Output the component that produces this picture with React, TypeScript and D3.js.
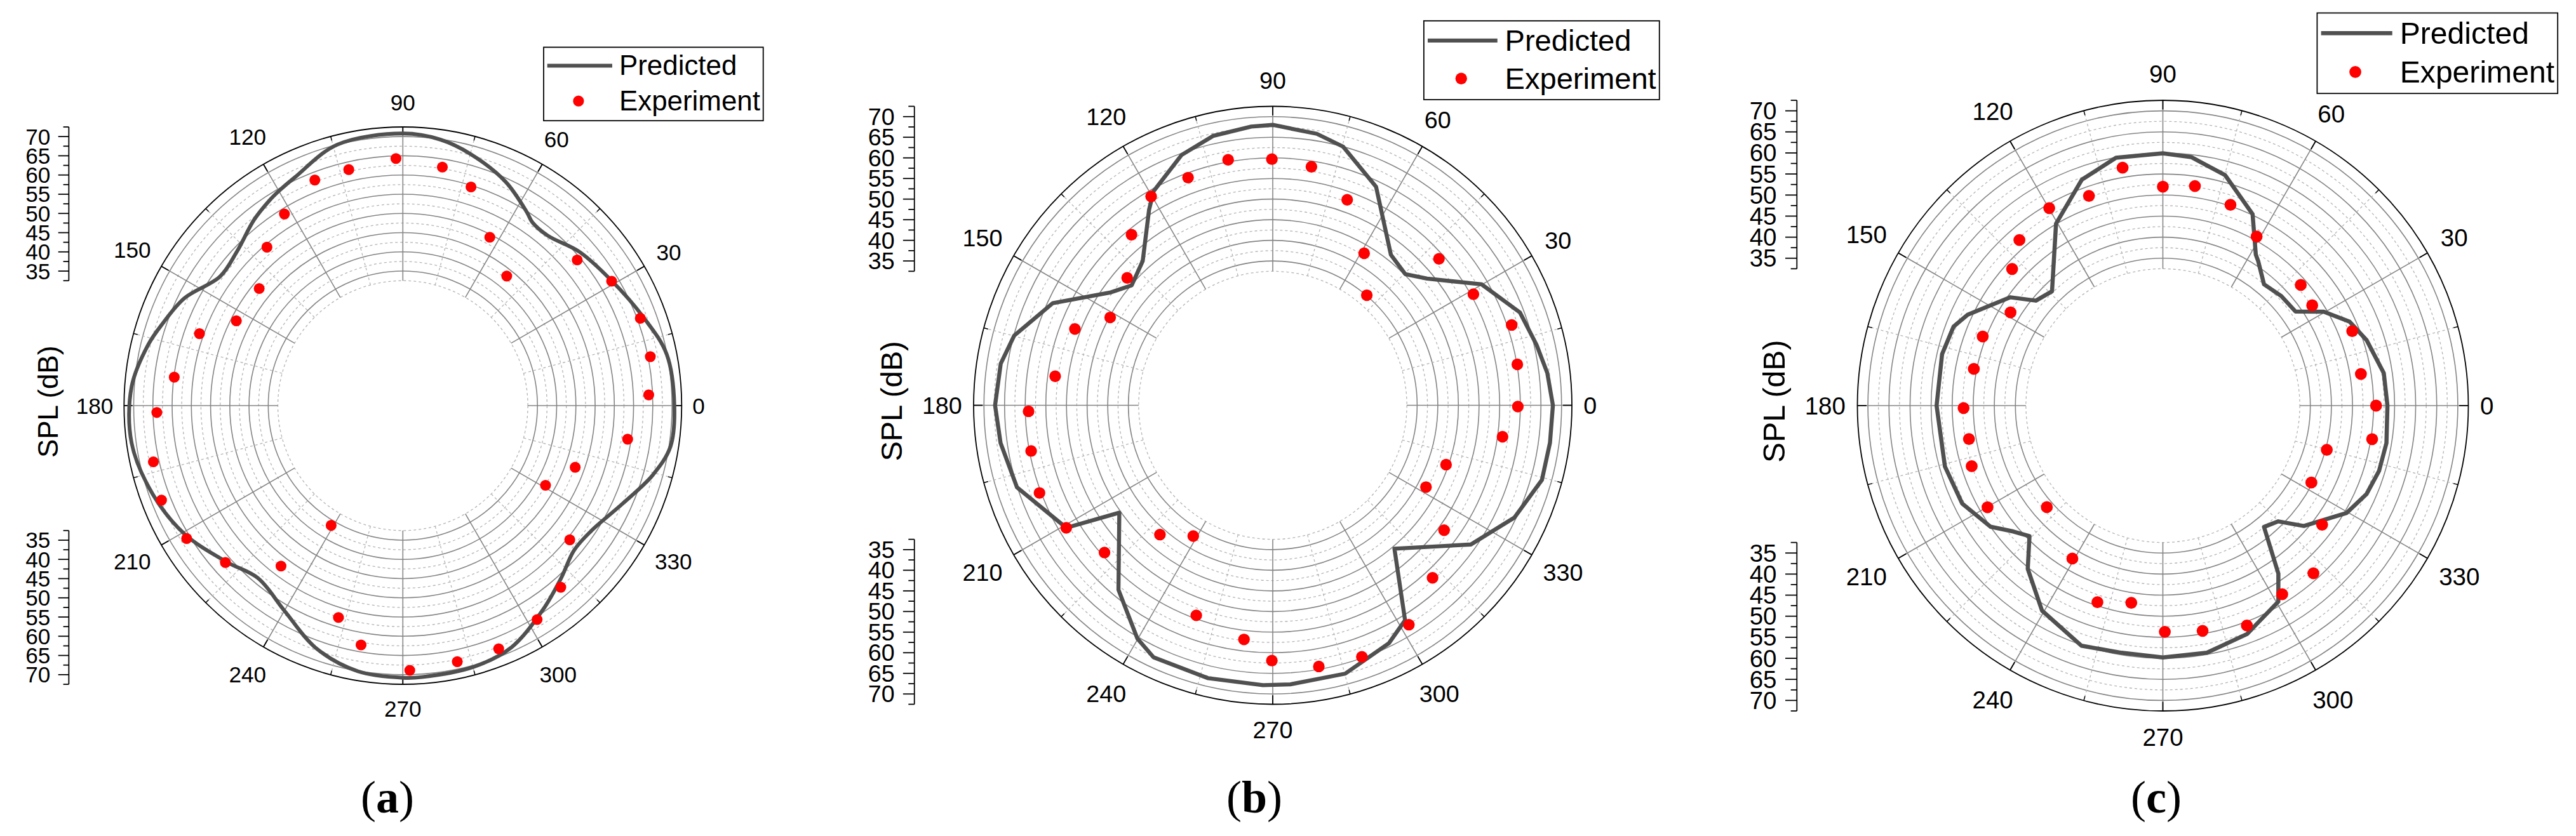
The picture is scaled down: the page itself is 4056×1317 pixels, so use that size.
import React from 'react';
import * as d3 from 'd3';

// ---------- shared ticks / labels ----------
const angleTicks = [0, 30, 60, 90, 120, 150, 180, 210, 240, 270, 300, 330];
const angleMinorTicks = [15, 45, 75, 105, 135, 165, 195, 225, 255, 285, 315, 345];
const radialMajor = [35, 40, 45, 50, 55, 60, 65, 70];
const radialMinor = [32.5, 37.5, 42.5, 47.5, 52.5, 57.5, 62.5, 67.5, 72.5];
const radialDomain = [0, 72.5];
const radialInner = 32.5;
const legendLabels = ['Predicted', 'Experiment'];
const axisTitle = 'SPL (dB)';
const panelLetters = ['a', 'b', 'c'];

// ---------- panel (a) ----------
const predA_deg = [0, 11, 20.3, 31.2, 41.1, 49.6, 54.8, 57.4, 65.4, 75, 82, 90, 104.1, 115.3, 119.9, 123.2, 128.7, 137.1, 144.7, 153.8, 161.1, 166.6, 176, 187.8, 199.5, 210.4, 221.5, 230, 240, 250.3, 260.4, 270, 274, 285.2, 294, 304.2, 312.5, 319.8, 326.2, 336, 344.4, 351.3];
const predA_spl = [70.6, 69.9, 66.6, 63.2, 60.9, 58.1, 58.4, 59.8, 64.1, 67.8, 69.9, 70.8, 70.0, 65.7, 64.5, 63.6, 61.9, 58.9, 58.2, 63.3, 66.0, 68.1, 70.7, 71.2, 69.0, 65.9, 61.3, 58.6, 61.6, 67.0, 70.1, 70.8, 70.8, 70.4, 69.0, 64.5, 60.9, 58.3, 58.8, 62.6, 67.4, 70.4];
const expA_deg = [2.5, 11.2, 20.2, 30.8, 39.9, 51.3, 62.7, 72.7, 80.6, 91.6, 102.9, 111.3, 121.7, 130.6, 140.8, 153, 160.5, 172.9, 181.6, 192.7, 201.4, 211.6, 221.5, 232.8, 239.1, 253.1, 260.1, 271.5, 282, 291.5, 302.1, 311, 321.2, 330.8, 340.3, 351.5];
const expA_spl = [64.0, 65.6, 65.8, 63.2, 59.1, 43.2, 49.3, 59.6, 62.9, 64.3, 63.0, 63.0, 58.6, 54.3, 48.2, 48.6, 56.1, 59.9, 64.0, 66.5, 67.4, 66.0, 61.6, 52.4, 36.3, 57.6, 63.2, 68.9, 68.1, 68.0, 65.7, 62.6, 55.7, 42.5, 47.6, 59.1];

// ---------- panel (b) ----------
const predB_deg = [0, 6.7, 12.9, 20.6, 30.1, 39.4, 44.7, 51.9, 64.7, 74.8, 80.8, 90, 94.4, 102.5, 110, 119.1, 122.3, 132, 139.6, 145.3, 155.1, 164.9, 171.3, 180, 187.9, 197.8, 210.7, 215, 230.1, 239.9, 244.7, 256.7, 268, 273.6, 285.1, 296, 301.6, 310.3, 324.9, 335.1, 344.5, 352.3];
const predB_spl = [67.9, 67.0, 65.6, 64.0, 58.5, 48.4, 45.2, 46.4, 58.6, 65.0, 66.7, 68.0, 67.8, 66.9, 64.6, 59.4, 56.1, 47.1, 44.9, 48.0, 58.8, 64.9, 66.7, 67.3, 66.6, 65.1, 58.2, 45.4, 58.3, 65.4, 67.6, 68.0, 67.9, 67.8, 67.4, 64.2, 61.2, 45.6, 58.7, 64.6, 67.7, 67.8];
const expB_deg = [9.5, 18.6, 29, 41.4, 49.5, 59, 70.1, 80.8, 90.2, 100.3, 110.4, 120.2, 129.6, 138.8, 151.6, 158.9, 172.4, 181.4, 190.7, 200.6, 210.7, 221.2, 228.9, 238.7, 250, 263, 269.8, 280, 289.5, 301.8, 312.8, 323.9, 331.9, 341.1, 352.2, 359.7];
const expB_spl = [60.1, 61.1, 55.6, 53.7, 35.1, 43.0, 53.0, 58.6, 59.7, 60.5, 58.9, 58.6, 53.7, 46.9, 44.8, 51.4, 53.2, 59.2, 59.6, 60.4, 58.2, 54.2, 41.6, 37.1, 54.2, 57.2, 61.9, 64.3, 64.7, 62.6, 57.0, 51.4, 42.1, 44.4, 56.2, 59.4];

// ---------- panel (c) ----------
const predC_deg = [0, 8.4, 17.8, 24.2, 30.3, 35.4, 42.8, 50.2, 56.6, 58.4, 64.9, 74.9, 83.5, 90, 100.7, 109.7, 120.4, 134.1, 140.4, 144.6, 155, 159.3, 166.9, 180, 195.6, 206, 215.1, 220.1, 224.4, 230.4, 239.5, 251.3, 260.5, 270, 280.1, 290.2, 300.5, 304.5, 309.8, 314.9, 319.5, 329.7, 336.5, 343.2, 350.5];
const predC_spl = [53.3, 53.0, 50.8, 48.6, 44.2, 38.6, 38.3, 37.5, 41.1, 42.1, 50.2, 56.7, 59.4, 59.9, 59.9, 57.0, 50.1, 37.8, 39.1, 44.4, 51.1, 53.1, 53.8, 53.7, 53.7, 53.0, 50.0, 46.4, 44.3, 50.3, 56.5, 60.2, 59.5, 59.8, 59.6, 57.8, 54.0, 48.4, 37.5, 38.8, 44.0, 50.5, 52.7, 53.6, 53.8];
const expC_deg = [0, 9.1, 21.5, 33.9, 41.2, 61, 71.4, 81.7, 90, 99.6, 109.4, 119.9, 130.9, 137.8, 148.5, 159, 169, 180.7, 189.8, 197.6, 210.1, 221.2, 239.4, 251.6, 260.9, 270.5, 280, 290.9, 302.3, 311.9, 323.2, 332.6, 344.9, 350.9];
const expC_spl = [50.6, 47.6, 48.3, 42.7, 43.5, 45.9, 50.3, 52.7, 52.0, 57.3, 52.8, 54.1, 52.0, 48.3, 42.4, 45.8, 45.7, 47.3, 46.7, 47.6, 48.1, 36.6, 42.2, 49.2, 47.4, 53.7, 54.3, 55.9, 53.0, 53.5, 47.2, 39.7, 40.3, 50.3];

// ---------- layout (positions / styles) ----------
const W = 4056;
const H = 1317;
const FONT = '"Liberation Sans", Arial, sans-serif';
const SERIF = '"Liberation Serif", "Times New Roman", serif';
const LINE_COLOR = '#505050';
const DOT_COLOR = '#ff0000';

type PanelProps = {
  cx: number; cy: number; R: number; smooth: boolean; letter: string; letterX: number;
  predDeg: number[]; predSpl: number[]; expDeg: number[]; expSpl: number[];
};

const layouts = [
  { cx: 634.3, cy: 639, R: 439, smooth: true, letterX: 610 },
  { cx: 2004, cy: 638.5, R: 471, smooth: false, letterX: 1975 },
  { cx: 3405.5, cy: 639, R: 481, smooth: false, letterX: 3395 },
];

function Panel(p: PanelProps) {
  const { cx, cy, R } = p;
  const r = d3.scaleLinear().domain(radialDomain).range([0, R]);
  const rad = (deg: number) => (deg * Math.PI) / 180;
  const pt = (deg: number, v: number): [number, number] => [
    cx + r(v) * Math.cos(rad(deg)),
    cy - r(v) * Math.sin(rad(deg)),
  ];
  const lineGen = d3
    .lineRadial<[number, number]>()
    .angle((d) => rad(90 - d[0]))
    .radius((d) => r(d[1]))
    .curve(p.smooth ? d3.curveCatmullRomClosed.alpha(0.5) : d3.curveLinearClosed);
  const predPts: [number, number][] = p.predDeg.map((d, i) => [d, p.predSpl[i]]);
  const fs = 0.08 * R;
  const gap = 0.0387 * R;
  const lw = Math.max(5, 0.0135 * R);
  const dotR = 0.0195 * R;

  // left radial axes
  const axX = cx - 1.198 * R;
  const allTicks = [...radialMinor, ...radialMajor].sort((a, b) => a - b);
  const majorLen = 0.038 * R;
  const minorLen = 0.02 * R;

  // legend
  const lx = cx + 0.505 * R;
  const ly = cy - 1.286 * R;
  const lfs = 0.1 * R;

  return (
    <g>
      {/* grid circles */}
      {radialMinor.filter((v) => v < 72.5).map((v) => (
        <circle key={'mc' + v} cx={cx} cy={cy} r={r(v)} fill="none" stroke="#b4b4b4" strokeWidth={1.3} strokeDasharray="4,4" />
      ))}
      {radialMajor.map((v) => (
        <circle key={'Mc' + v} cx={cx} cy={cy} r={r(v)} fill="none" stroke="#858585" strokeWidth={1.6} />
      ))}
      {/* spokes */}
      {angleMinorTicks.map((a) => {
        const [x1, y1] = pt(a, radialInner);
        const [x2, y2] = pt(a, radialDomain[1]);
        return <line key={'ms' + a} x1={x1} y1={y1} x2={x2} y2={y2} stroke="#b4b4b4" strokeWidth={1.3} strokeDasharray="4,4" />;
      })}
      {angleTicks.map((a) => {
        const [x1, y1] = pt(a, radialInner);
        const [x2, y2] = pt(a, radialDomain[1]);
        return <line key={'Ms' + a} x1={x1} y1={y1} x2={x2} y2={y2} stroke="#858585" strokeWidth={1.6} />;
      })}
      {/* outer circle and angular ticks */}
      <circle cx={cx} cy={cy} r={R} fill="none" stroke="#000" strokeWidth={1.8} />
      {angleTicks.map((a) => {
        const x1 = cx + R * Math.cos(rad(a));
        const y1 = cy - R * Math.sin(rad(a));
        const x2 = cx + (R - 0.03 * R) * Math.cos(rad(a));
        const y2 = cy - (R - 0.03 * R) * Math.sin(rad(a));
        return <line key={'at' + a} x1={x1} y1={y1} x2={x2} y2={y2} stroke="#000" strokeWidth={1.8} />;
      })}
      {angleMinorTicks.map((a) => {
        const x1 = cx + R * Math.cos(rad(a));
        const y1 = cy - R * Math.sin(rad(a));
        const x2 = cx + (R - 0.015 * R) * Math.cos(rad(a));
        const y2 = cy - (R - 0.015 * R) * Math.sin(rad(a));
        return <line key={'amt' + a} x1={x1} y1={y1} x2={x2} y2={y2} stroke="#000" strokeWidth={1.5} />;
      })}
      {/* angular labels */}
      {angleTicks.map((a) => {
        const label = String(a);
        const w = label.length * 0.556 * fs;
        const h = 1.2 * fs;
        const c = Math.cos(rad(a));
        const s = Math.sin(rad(a));
        const dist = R + gap + Math.abs(c) * (w / 2) + Math.abs(s) * (h / 2);
        return (
          <text key={'al' + a} x={cx + dist * c} y={cy - dist * s} fontFamily={FONT} fontSize={fs}
            textAnchor="middle" dominantBaseline="central" fill="#000">{label}</text>
        );
      })}
      {/* predicted line */}
      <path d={lineGen(predPts) || ''} transform={`translate(${cx},${cy})`} fill="none"
        stroke={LINE_COLOR} strokeWidth={lw} strokeLinejoin="round" />
      {/* experiment dots */}
      {p.expDeg.map((d, i) => {
        const [x, y] = pt(d, p.expSpl[i]);
        return <circle key={'e' + i} cx={x} cy={y} r={dotR} fill={DOT_COLOR} />;
      })}
      {/* left radial axes (top: 72.5 -> 32.5, bottom: 32.5 -> 72.5) */}
      {[-1, 1].map((sgn) => (
        <g key={'ax' + sgn}>
          <line x1={axX} x2={axX} y1={cy + sgn * r(radialInner)} y2={cy + sgn * r(radialDomain[1])} stroke="#000" strokeWidth={1.8} />
          {allTicks.map((v) => {
            const major = radialMajor.includes(v);
            const y = cy + sgn * r(v);
            return <line key={'t' + v} x1={axX - (major ? majorLen : minorLen)} x2={axX} y1={y} y2={y} stroke="#000" strokeWidth={1.8} />;
          })}
          {radialMajor.map((v) => (
            <text key={'tl' + v} x={axX - 0.066 * R} y={cy + sgn * r(v)} fontFamily={FONT} fontSize={fs}
              textAnchor="end" dominantBaseline="central" fill="#000">{v}</text>
          ))}
        </g>
      ))}
      <text transform={`translate(${cx - 1.274 * R},${cy - 0.014 * R}) rotate(-90)`} fontFamily={FONT}
        fontSize={0.1 * R} textAnchor="middle" dominantBaseline="central" fill="#000">{axisTitle}</text>
      {/* legend */}
      <rect x={lx} y={ly} width={0.7875 * R} height={0.2636 * R} fill="#fff" stroke="#000" strokeWidth={1.8} />
      <line x1={lx + 0.013 * R} x2={lx + 0.246 * R} y1={ly + 0.066 * R} y2={ly + 0.066 * R} stroke={LINE_COLOR} strokeWidth={lw} />
      <circle cx={lx + 0.125 * R} cy={ly + 0.193 * R} r={dotR} fill={DOT_COLOR} />
      <text x={lx + 0.271 * R} y={ly + 0.1 * R} fontFamily={FONT} fontSize={lfs} fill="#000">{legendLabels[0]}</text>
      <text x={lx + 0.271 * R} y={ly + 0.227 * R} fontFamily={FONT} fontSize={lfs} fill="#000">{legendLabels[1]}</text>
      {/* panel letter */}
      <text x={p.letterX} y={1280} fontFamily={SERIF} fontSize={72} textAnchor="middle" fill="#000">
        (<tspan fontWeight="bold">{p.letter}</tspan>)
      </text>
    </g>
  );
}

export default function App() {
  const data = [
    { predDeg: predA_deg, predSpl: predA_spl, expDeg: expA_deg, expSpl: expA_spl },
    { predDeg: predB_deg, predSpl: predB_spl, expDeg: expB_deg, expSpl: expB_spl },
    { predDeg: predC_deg, predSpl: predC_spl, expDeg: expC_deg, expSpl: expC_spl },
  ];
  return (
    <svg width={W} height={H} viewBox={`0 0 ${W} ${H}`} style={{ position: 'absolute', left: 0, top: 0, background: '#fff' }}>
      <rect x={0} y={0} width={W} height={H} fill="#fff" />
      {layouts.map((l, i) => (
        <Panel key={i} {...l} {...data[i]} letter={panelLetters[i]} />
      ))}
    </svg>
  );
}
